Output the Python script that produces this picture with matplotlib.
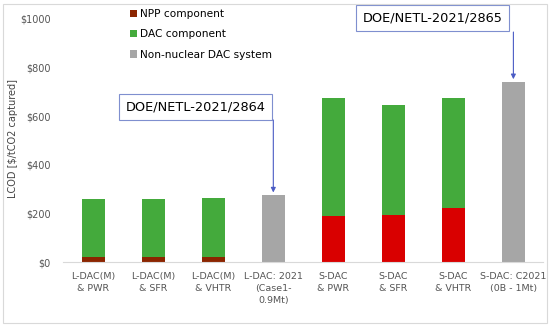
import numpy as np
import matplotlib.pyplot as plt
from matplotlib.patches import Rectangle

# categories and values ($/tCO2 captured)
categories = ['L-DAC(M)\n& PWR', 'L-DAC(M)\n& SFR', 'L-DAC(M)\n& VHTR',
              'L-DAC: 2021\n(Case1-\n0.9Mt)', 'S-DAC\n& PWR', 'S-DAC\n& SFR',
              'S-DAC\n& VHTR', 'S-DAC: C2021\n(0B - 1Mt)']
npp = [22, 22, 22, 0, 190, 194, 222, 0]
dac = [237, 236, 240, 0, 485, 452, 453, 0]
non_nuclear = [0, 0, 0, 275, 0, 0, 0, 740]
yticks = [0, 200, 400, 600, 800, 1000]

npp_colors = ['#8B2500'] * 3 + ['#D90000'] * 5
green = '#44AA3C'
gray = '#A6A6A6'

plt.rcParams['font.family'] = ['DejaVu Sans']
fig = plt.figure(figsize=(5.5, 3.27), dpi=100)
ax = fig.add_axes([0.115, 0.198, 0.873, 0.745])

x = np.arange(len(categories))
w = 0.38
npp_arr = np.array(npp)
ax.bar(x, npp_arr, w, color=npp_colors, label='NPP component', zorder=2)
ax.bar(x, dac, w, bottom=npp_arr, color=green, label='DAC component', zorder=2)
ax.bar(x, non_nuclear, w, color=gray, label='Non-nuclear DAC system', zorder=2)

ax.set_xlim(-0.5, len(categories) - 0.5)
ax.set_ylim(0, 1000)
ax.set_yticks(yticks)
ax.set_yticklabels(['${}'.format(v) for v in yticks])
ax.set_xticks(x)
ax.set_xticklabels(categories, fontsize=6.8, color='#555555', linespacing=1.4)
ax.tick_params(axis='y', labelsize=7, colors='#555555', length=0, pad=9)
ax.tick_params(axis='x', length=0, pad=7)
for s in ['top', 'right', 'left']:
    ax.spines[s].set_visible(False)
ax.spines['bottom'].set_color('#D9D9D9')
ax.set_ylabel('LCOD [$/tCO2 captured]', fontsize=7, color='#444444', labelpad=3)
ax.yaxis.set_label_coords(-0.095, 0.51)

leg = ax.legend(loc='upper left', bbox_to_anchor=(0.13, 1.055), frameon=False,
                fontsize=7.6, handlelength=0.7, handleheight=0.7, handletextpad=0.3,
                labelspacing=0.95, borderaxespad=0)

# annotation boxes with arrows
box = dict(boxstyle='square,pad=0.5', fc='white', ec='#7F8FCF', lw=0.8)
arrow = dict(arrowstyle='-|>', color='#4A5BC4', lw=0.8, mutation_scale=7,
             shrinkA=0, shrinkB=2)
ax.annotate('DOE/NETL-2021/2864', xy=(3, non_nuclear[3]), xytext=(1.7, 637),
            fontsize=9.3, ha='center', va='center', bbox=box)
ax.annotate('', xy=(3, non_nuclear[3]), xytext=(3, 584), arrowprops=arrow)
ax.annotate('DOE/NETL-2021/2865', xy=(7, non_nuclear[7]), xytext=(5.65, 1001),
            fontsize=9.3, ha='center', va='center', bbox=box, annotation_clip=False)
ax.annotate('', xy=(7, non_nuclear[7]), xytext=(7, 945), arrowprops=arrow,
            annotation_clip=False)

# light frame around the figure
fig.patches.append(Rectangle((0.006, 0.012), 0.988, 0.976, transform=fig.transFigure,
                             fill=False, ec='#D9D9D9', lw=0.8))

fig.savefig('out.png', dpi=100)
